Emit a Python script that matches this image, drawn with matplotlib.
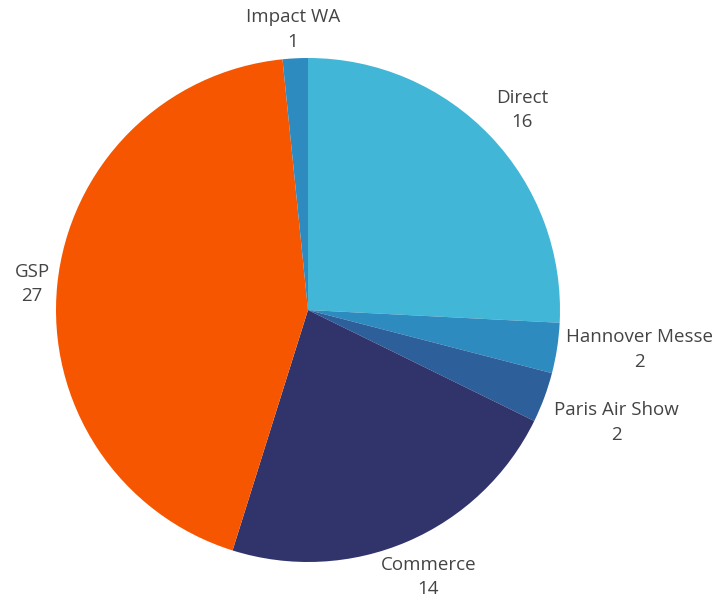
import numpy as np
import matplotlib.pyplot as plt

plt.rcParams['font.family'] = ['Open Sans', 'DejaVu Sans']

labels = ['Direct', 'Hannover Messe', 'Paris Air Show', 'Commerce', 'GSP', 'Impact WA']
values = [16, 2, 2, 14, 27, 1]
colors = ['#41b6d6', '#2e8bbf', '#2d5f9a', '#31346b', '#f75600', '#2e8bbf']

fig = plt.figure(figsize=(7.23, 6.04), dpi=100)
ax = fig.add_axes([0, 0, 1, 1])

wedges, _ = ax.pie(values, colors=colors, startangle=90, counterclock=False,
                   wedgeprops=dict(linewidth=0))

# labels just outside the rim, aligned by direction
for w, lab, val in zip(wedges, labels, values):
    ang = np.deg2rad((w.theta1 + w.theta2) / 2)
    c, s = np.cos(ang), np.sin(ang)
    r = 1.03 + 0.035 * max(0, -s)
    x, y = r * c, r * s
    ha = 'left' if c > 0.5 else ('right' if c < -0.5 else 'center')
    if ha == 'center':
        x += 0.15 * c
    if s > 0.5:
        va = 'bottom'
    elif s < -0.3:
        va = 'top'
    else:
        va = 'center'
    ax.text(x, y, f'{lab}\n{val}', ha=ha, va=va, multialignment='center',
            fontsize=13.5, color='#444444', linespacing=1.45)

ax.set_aspect('auto')
ax.set_xlim(-308 / 252, (723 - 308) / 252)
ax.set_ylim((310 - 604) / 252, 310 / 252)
ax.axis('off')

fig.savefig('out.png', dpi=100)
